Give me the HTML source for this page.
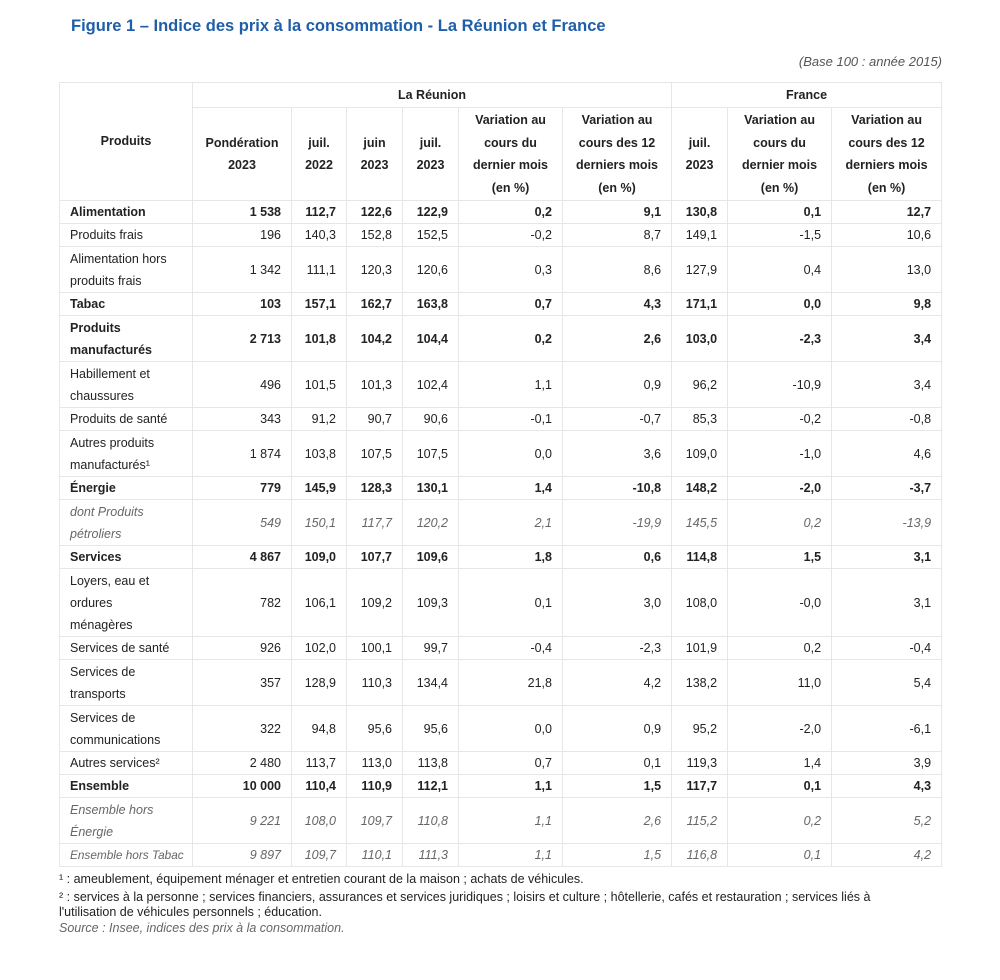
<!DOCTYPE html>
<html><head><meta charset="utf-8"><style>
body{margin:0;width:1000px;height:980px;background:#fff;font-family:"Liberation Sans","DejaVu Sans",sans-serif;color:#222;position:relative}
.title{position:absolute;left:71px;top:17px;font-size:16.5px;font-weight:bold;color:#1f5ea8}
.base{position:absolute;right:58px;top:54px;font-size:13px;font-style:italic;color:#555}
table{position:absolute;left:59px;top:82px;width:882px;border-collapse:collapse;table-layout:fixed;font-size:12.5px}
td,th{border:1px solid #e6e6e6;padding:0 10px;line-height:22px;text-align:right;overflow:hidden;white-space:nowrap;box-sizing:border-box}
th{font-weight:bold;text-align:center;padding:0 2px;line-height:22.5px}
td:first-child{text-align:left}
tr.b td{font-weight:bold}
tr.i td{font-style:italic;color:#666}
.r1{height:22px}.r2{height:46px}.r3{height:68px}
.fn{position:absolute;left:59px;font-size:12.5px;line-height:15px;width:880px;white-space:nowrap}
</style></head><body>
<div class="title">Figure 1 – Indice des prix à la consommation - La Réunion et France</div>
<div class="base">(Base 100 : année 2015)</div>
<table>
<colgroup><col style="width:133px"><col style="width:99px"><col style="width:55px"><col style="width:56px"><col style="width:56px"><col style="width:104px"><col style="width:109px"><col style="width:56px"><col style="width:104px"><col style="width:110px"></colgroup>
<tr style="height:25px"><th rowspan="2">Produits</th><th colspan="6">La Réunion</th><th colspan="3">France</th></tr>
<tr style="height:93px"><th>Pondération<br>2023</th><th>juil.<br>2022</th><th>juin<br>2023</th><th>juil.<br>2023</th><th>Variation au<br>cours du<br>dernier mois<br>(en %)</th><th>Variation au<br>cours des 12<br>derniers mois<br>(en %)</th><th>juil.<br>2023</th><th>Variation au<br>cours du<br>dernier mois<br>(en %)</th><th>Variation au<br>cours des 12<br>derniers mois<br>(en %)</th></tr>
<tr class="b r1"><td>Alimentation</td><td>1 538</td><td>112,7</td><td>122,6</td><td>122,9</td><td>0,2</td><td>9,1</td><td>130,8</td><td>0,1</td><td>12,7</td></tr>
<tr class="r1"><td>Produits frais</td><td>196</td><td>140,3</td><td>152,8</td><td>152,5</td><td>-0,2</td><td>8,7</td><td>149,1</td><td>-1,5</td><td>10,6</td></tr>
<tr class="r2"><td>Alimentation hors<br>produits frais</td><td>1 342</td><td>111,1</td><td>120,3</td><td>120,6</td><td>0,3</td><td>8,6</td><td>127,9</td><td>0,4</td><td>13,0</td></tr>
<tr class="b r1"><td>Tabac</td><td>103</td><td>157,1</td><td>162,7</td><td>163,8</td><td>0,7</td><td>4,3</td><td>171,1</td><td>0,0</td><td>9,8</td></tr>
<tr class="b r2"><td>Produits<br>manufacturés</td><td>2 713</td><td>101,8</td><td>104,2</td><td>104,4</td><td>0,2</td><td>2,6</td><td>103,0</td><td>-2,3</td><td>3,4</td></tr>
<tr class="r2"><td>Habillement et<br>chaussures</td><td>496</td><td>101,5</td><td>101,3</td><td>102,4</td><td>1,1</td><td>0,9</td><td>96,2</td><td>-10,9</td><td>3,4</td></tr>
<tr class="r1"><td>Produits de santé</td><td>343</td><td>91,2</td><td>90,7</td><td>90,6</td><td>-0,1</td><td>-0,7</td><td>85,3</td><td>-0,2</td><td>-0,8</td></tr>
<tr class="r2"><td>Autres produits<br>manufacturés¹</td><td>1 874</td><td>103,8</td><td>107,5</td><td>107,5</td><td>0,0</td><td>3,6</td><td>109,0</td><td>-1,0</td><td>4,6</td></tr>
<tr class="b r1"><td>Énergie</td><td>779</td><td>145,9</td><td>128,3</td><td>130,1</td><td>1,4</td><td>-10,8</td><td>148,2</td><td>-2,0</td><td>-3,7</td></tr>
<tr class="i r2"><td>dont Produits<br>pétroliers</td><td>549</td><td>150,1</td><td>117,7</td><td>120,2</td><td>2,1</td><td>-19,9</td><td>145,5</td><td>0,2</td><td>-13,9</td></tr>
<tr class="b r1"><td>Services</td><td>4 867</td><td>109,0</td><td>107,7</td><td>109,6</td><td>1,8</td><td>0,6</td><td>114,8</td><td>1,5</td><td>3,1</td></tr>
<tr class="r3"><td>Loyers, eau et<br>ordures<br>ménagères</td><td>782</td><td>106,1</td><td>109,2</td><td>109,3</td><td>0,1</td><td>3,0</td><td>108,0</td><td>-0,0</td><td>3,1</td></tr>
<tr class="r1"><td>Services de santé</td><td>926</td><td>102,0</td><td>100,1</td><td>99,7</td><td>-0,4</td><td>-2,3</td><td>101,9</td><td>0,2</td><td>-0,4</td></tr>
<tr class="r2"><td>Services de<br>transports</td><td>357</td><td>128,9</td><td>110,3</td><td>134,4</td><td>21,8</td><td>4,2</td><td>138,2</td><td>11,0</td><td>5,4</td></tr>
<tr class="r2"><td>Services de<br>communications</td><td>322</td><td>94,8</td><td>95,6</td><td>95,6</td><td>0,0</td><td>0,9</td><td>95,2</td><td>-2,0</td><td>-6,1</td></tr>
<tr class="r1"><td>Autres services²</td><td>2 480</td><td>113,7</td><td>113,0</td><td>113,8</td><td>0,7</td><td>0,1</td><td>119,3</td><td>1,4</td><td>3,9</td></tr>
<tr class="b r1"><td>Ensemble</td><td>10 000</td><td>110,4</td><td>110,9</td><td>112,1</td><td>1,1</td><td>1,5</td><td>117,7</td><td>0,1</td><td>4,3</td></tr>
<tr class="i r2"><td>Ensemble hors<br>Énergie</td><td>9 221</td><td>108,0</td><td>109,7</td><td>110,8</td><td>1,1</td><td>2,6</td><td>115,2</td><td>0,2</td><td>5,2</td></tr>
<tr class="i r1"><td style="font-size:11.8px">Ensemble hors Tabac</td><td>9 897</td><td>109,7</td><td>110,1</td><td>111,3</td><td>1,1</td><td>1,5</td><td>116,8</td><td>0,1</td><td>4,2</td></tr>
</table>
<div class="fn" style="top:872px">¹ : ameublement, équipement ménager et entretien courant de la maison ; achats de véhicules.</div>
<div class="fn" style="top:890px">² : services à la personne ; services financiers, assurances et services juridiques ; loisirs et culture ; hôtellerie, cafés et restauration ; services liés à<br>l'utilisation de véhicules personnels ; éducation.</div>
<div class="fn" style="top:921px;font-style:italic;color:#666">Source : Insee, indices des prix à la consommation.</div>
</body></html>
